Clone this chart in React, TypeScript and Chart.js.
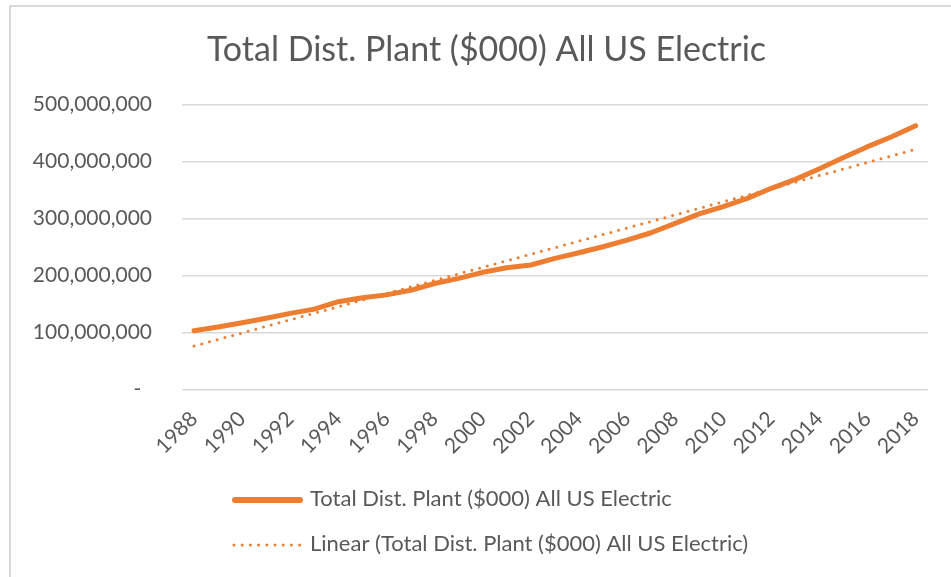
import React, { useEffect, useRef } from 'react';
import { Chart, registerables } from 'chart.js';

Chart.register(...registerables);

const years = [
  '1988', '1989', '1990', '1991', '1992', '1993', '1994', '1995', '1996', '1997',
  '1998', '1999', '2000', '2001', '2002', '2003', '2004', '2005', '2006', '2007',
  '2008', '2009', '2010', '2011', '2012', '2013', '2014', '2015', '2016', '2017', '2018',
];

const totalPlant = [
  103000000, 109600000, 117000000, 125000000, 133600000, 141000000, 154000000,
  161000000, 166000000, 174000000, 186000000, 195000000, 205600000, 213700000,
  218400000, 230000000, 240000000, 250500000, 262000000, 275000000, 291500000,
  308000000, 320800000, 335400000, 353000000, 368700000, 387400000, 407000000,
  426000000, 443500000, 462800000,
];

const trendStart = 76300000;
const trendEnd = 421400000;

const yMin = 0;
const yMax = 500000000;
const yStep = 100000000;

const titleText = 'Total Dist. Plant ($000) All US Electric';
const seriesLabel = 'Total Dist. Plant ($000) All US Electric';
const trendLabel = 'Linear (Total Dist. Plant ($000) All US Electric)';

const trendValues: (number | null)[] = years.map((_, i) =>
  i === 0 ? trendStart : i === years.length - 1 ? trendEnd : null
);

const ORANGE = '#ED7D31';
const TEXT = '#595959';
const GRID = '#D9D9D9';
const FONT = 'Lato, "Open Sans", sans-serif';

const stackedLegend = {
  id: 'stackedLegend',
  afterDraw(chart: any) {
    const ctx = chart.ctx as CanvasRenderingContext2D;
    const rows = [500, 545];
    chart.data.datasets.forEach((ds: any, i: number) => {
      const y = rows[i];
      ctx.save();
      ctx.strokeStyle = ds.borderColor;
      ctx.lineCap = 'round';
      if (i === 0) {
        ctx.lineWidth = 6;
        ctx.setLineDash([]);
        ctx.beginPath();
        ctx.moveTo(235, y);
        ctx.lineTo(300, y);
        ctx.stroke();
      } else {
        ctx.lineWidth = 3;
        ctx.setLineDash([0, 8.2]);
        ctx.beginPath();
        ctx.moveTo(234, y);
        ctx.lineTo(300, y);
        ctx.stroke();
      }
      ctx.setLineDash([]);
      ctx.fillStyle = TEXT;
      ctx.font = `22px ${FONT}`;
      ctx.textAlign = 'left';
      ctx.textBaseline = 'middle';
      ctx.fillText(ds.label, 310, y - 1);
      ctx.restore();
    });
  },
};

export default function App() {
  const canvasRef = useRef<HTMLCanvasElement | null>(null);

  useEffect(() => {
    if (!canvasRef.current) return;
    const chart = new Chart(canvasRef.current, {
      type: 'line',
      data: {
        labels: years,
        datasets: [
          {
            label: seriesLabel,
            data: totalPlant,
            borderColor: ORANGE,
            backgroundColor: ORANGE,
            borderWidth: 5,
            pointRadius: 0,
            borderCapStyle: 'round',
            borderJoinStyle: 'round',
            tension: 0,
            fill: false,
          },
          {
            label: trendLabel,
            data: trendValues,
            borderColor: ORANGE,
            backgroundColor: ORANGE,
            borderWidth: 3,
            borderDash: [0, 8],
            borderCapStyle: 'round',
            pointRadius: 0,
            spanGaps: true,
            tension: 0,
            fill: false,
          },
        ],
      },
      options: {
        animation: false,
        responsive: false,
        devicePixelRatio: 1,
        layout: {
          padding: { left: 25, right: 3, top: 0, bottom: 107.5 },
        },
        plugins: {
          legend: { display: false },
          tooltip: { enabled: false },
          title: {
            display: true,
            text: titleText,
            color: TEXT,
            font: { family: FONT, size: 34, weight: 'normal' },
            padding: { top: 29.6, bottom: 34.1 },
          },
        },
        scales: {
          x: {
            offset: true,
            grid: { display: false, drawTicks: false },
            border: { display: false },
            ticks: {
              color: TEXT,
              font: { family: FONT, size: 21 },
              maxRotation: 45,
              minRotation: 45,
              autoSkip: false,
              padding: 17,
              callback: (_v: any, i: number) => (i % 2 === 0 ? years[i] : ''),
            },
            afterFit: (scale: any) => {
              scale.height = 80;
            },
          },
          y: {
            min: yMin,
            max: yMax,
            grid: { color: GRID, lineWidth: 1.5, drawTicks: false },
            border: { display: false },
            ticks: {
              stepSize: yStep,
              color: TEXT,
              font: { family: FONT, size: 21 },
              padding: 30,
              callback: (v: any) =>
                Number(v) === 0 ? '-  ' : Number(v).toLocaleString('en-US'),
            },
            afterFit: (scale: any) => {
              scale.width = 157;
            },
          },
          yRightSpacer: {
            type: 'linear',
            position: 'right',
            display: true,
            grid: { display: false, drawTicks: false },
            border: { display: false },
            ticks: { display: false },
            afterFit: (scale: any) => {
              scale.width = 20.3;
            },
          },
        },
      },
      plugins: [stackedLegend],
    });
    return () => chart.destroy();
  }, []);

  return (
    <div
      style={{
        position: 'fixed',
        left: 0,
        top: 0,
        width: 951,
        height: 577,
        overflow: 'hidden',
        background: '#fff',
      }}
    >
      <div
        style={{
          position: 'absolute',
          left: 9,
          top: 5,
          width: 1200,
          height: 1200,
          borderLeft: `2px solid ${GRID}`,
          borderTop: `2px solid ${GRID}`,
        }}
      />
      <canvas
        ref={canvasRef}
        width={951}
        height={577}
        style={{ position: 'absolute', left: 0, top: 0, width: 951, height: 577 }}
      />
    </div>
  );
}
